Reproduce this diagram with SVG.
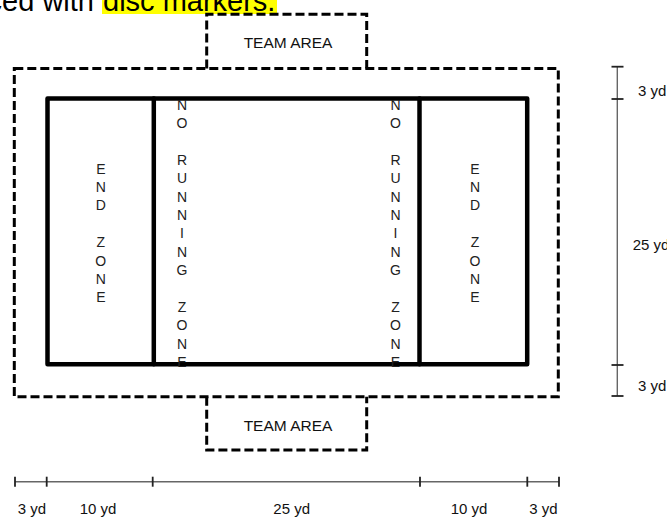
<svg xmlns="http://www.w3.org/2000/svg" width="667" height="518" viewBox="0 0 667 518">
<style>
.dash{fill:none;stroke:#000;stroke-width:3;stroke-dasharray:9 4}
.solid{fill:none;stroke:#000;stroke-width:4.5;stroke-linejoin:round;stroke-linecap:round}
.lbl{font-family:"Liberation Sans",Arial,sans-serif;font-size:15px;fill:#111}
.vt{font-family:"Liberation Sans",Arial,sans-serif;font-size:14px;fill:#222;text-anchor:middle}
.dim{stroke:#666;stroke-width:1.4;fill:none}
.tick{stroke:#222;stroke-width:1.8}
.top{font-family:"Liberation Sans",Arial,sans-serif;font-size:29px;fill:#000}
</style>
<rect width="667" height="518" fill="#fff"/>
<g id="caption">
<rect x="102" y="0" width="175" height="14" fill="#ffff00"/>
<text class="top" x="94" y="11" text-anchor="end">ced with</text>
<text class="top" x="103" y="11">disc markers.</text>
</g>
<g id="team-area-top">
<path class="dash" d="M206.7,68.5 V14.3 H366.7 V68.5"/>
<text class="lbl" x="288" y="48.3" text-anchor="middle" style="font-size:15.5px">TEAM AREA</text>
</g>
<g id="playing-area">
<rect class="dash" x="14.3" y="68.5" width="544" height="328.2"/>
</g>
<g id="team-area-bottom">
<path class="dash" d="M206.7,396.7 V450 H366.7 V396.7"/>
<text class="lbl" x="288" y="431" text-anchor="middle" style="font-size:15.5px">TEAM AREA</text>
</g>
<g id="field">
<rect class="solid" x="47.5" y="98.5" width="479.7" height="265.7"/>
<line class="solid" x1="153.8" y1="98.5" x2="153.8" y2="364.2"/>
<line class="solid" x1="419.5" y1="98.5" x2="419.5" y2="364.2"/>
</g>
<g id="end-zone-left">
<text class="vt"><tspan x="100.8" y="173.5">E</tspan><tspan x="100.8" y="191.9">N</tspan><tspan x="100.8" y="210.3">D</tspan><tspan x="100.8" y="247.1">Z</tspan><tspan x="100.8" y="265.5">O</tspan><tspan x="100.8" y="283.9">N</tspan><tspan x="100.8" y="302.3">E</tspan></text>
</g>
<g id="end-zone-right">
<text class="vt"><tspan x="475" y="173.5">E</tspan><tspan x="475" y="191.9">N</tspan><tspan x="475" y="210.3">D</tspan><tspan x="475" y="247.1">Z</tspan><tspan x="475" y="265.5">O</tspan><tspan x="475" y="283.9">N</tspan><tspan x="475" y="302.3">E</tspan></text>
</g>
<g id="no-running-zone-left">
<text class="vt"><tspan x="182" y="109.5">N</tspan><tspan x="182" y="127.9">O</tspan><tspan x="182" y="164.7">R</tspan><tspan x="182" y="183.1">U</tspan><tspan x="182" y="201.5">N</tspan><tspan x="182" y="219.9">N</tspan><tspan x="182" y="238.3">I</tspan><tspan x="182" y="256.7">N</tspan><tspan x="182" y="275.1">G</tspan><tspan x="182" y="311.9">Z</tspan><tspan x="182" y="330.3">O</tspan><tspan x="182" y="348.7">N</tspan><tspan x="182" y="367.1">E</tspan></text>
</g>
<g id="no-running-zone-right">
<text class="vt"><tspan x="395.5" y="109.5">N</tspan><tspan x="395.5" y="127.9">O</tspan><tspan x="395.5" y="164.7">R</tspan><tspan x="395.5" y="183.1">U</tspan><tspan x="395.5" y="201.5">N</tspan><tspan x="395.5" y="219.9">N</tspan><tspan x="395.5" y="238.3">I</tspan><tspan x="395.5" y="256.7">N</tspan><tspan x="395.5" y="275.1">G</tspan><tspan x="395.5" y="311.9">Z</tspan><tspan x="395.5" y="330.3">O</tspan><tspan x="395.5" y="348.7">N</tspan><tspan x="395.5" y="367.1">E</tspan></text>
</g>
<g id="connectors">
<g id="dim-vertical">
<line class="dim" x1="617.3" y1="66.7" x2="617.3" y2="396"/>
<line class="tick" x1="611.5" y1="66.7" x2="623.5" y2="66.7"/>
<line class="tick" x1="611.5" y1="99" x2="623.5" y2="99"/>
<line class="tick" x1="611.5" y1="365" x2="623.5" y2="365"/>
<line class="tick" x1="611.5" y1="396" x2="623.5" y2="396"/>
</g>
<g id="dim-horizontal">
<line class="dim" x1="15" y1="481.7" x2="559" y2="481.7"/>
<line class="tick" x1="15" y1="476.7" x2="15" y2="486.7"/>
<line class="tick" x1="46.7" y1="476.7" x2="46.7" y2="486.7"/>
<line class="tick" x1="152.7" y1="476.7" x2="152.7" y2="486.7"/>
<line class="tick" x1="420" y1="476.7" x2="420" y2="486.7"/>
<line class="tick" x1="527.3" y1="476.7" x2="527.3" y2="486.7"/>
<line class="tick" x1="559" y1="476.7" x2="559" y2="486.7"/>
</g>
</g>
<g id="dim-labels">
<text class="lbl" x="638" y="96">3 yd</text>
<text class="lbl" x="632.7" y="250">25 yd</text>
<text class="lbl" x="638" y="390.7">3 yd</text>
<text class="lbl" x="32" y="514" text-anchor="middle">3 yd</text>
<text class="lbl" x="98" y="514" text-anchor="middle">10 yd</text>
<text class="lbl" x="291.7" y="514" text-anchor="middle">25 yd</text>
<text class="lbl" x="469" y="514" text-anchor="middle">10 yd</text>
<text class="lbl" x="543.5" y="514" text-anchor="middle">3 yd</text>
</g>
</svg>
